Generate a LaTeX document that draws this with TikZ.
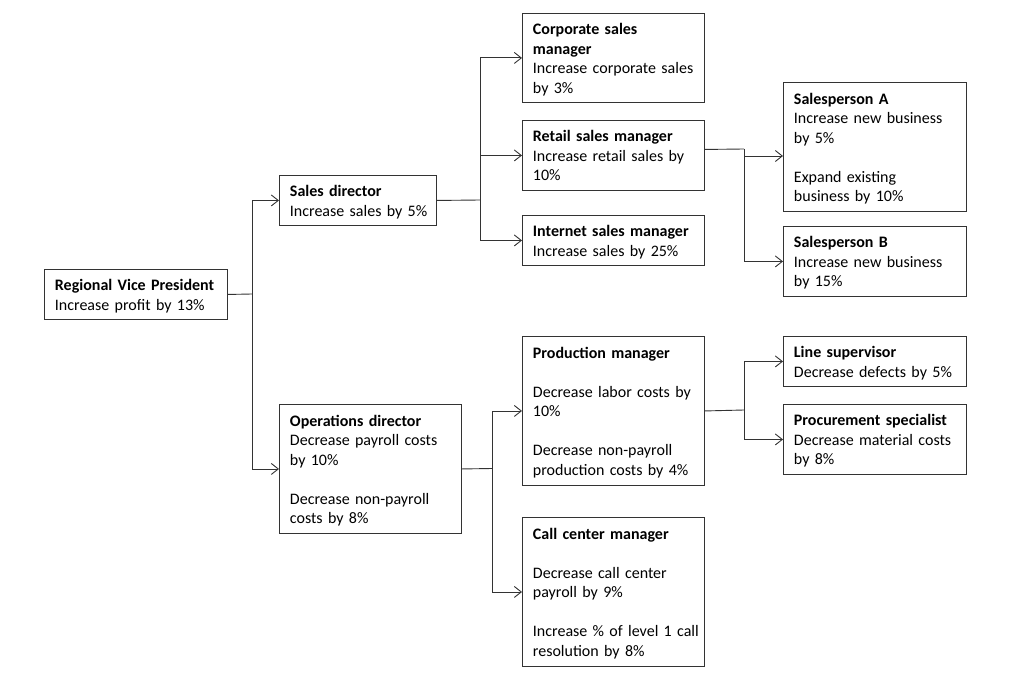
\documentclass[tikz,border=0pt]{standalone}
\usepackage{fontspec}
\setmainfont{Carlito}
\usetikzlibrary{arrows.meta}
\newcommand\tl[1]{\raisebox{-2pt}[\height][\depth]{\begin{tabular}{@{}l@{}}#1\end{tabular}}}
\tikzset{
  box/.style={draw=black!80, line width=0.9pt, rectangle, anchor=north west, align=left,
    inner xsep=10.5pt, inner ysep=2pt, font=\fontsize{16}{19.5}\selectfont},
  link/.style={draw=black!80, line width=0.9pt},
  arr/.style={link, -{Straight Barb[length=7pt,width=11pt,line width=0.9pt]}}
}
\begin{document}
\begin{tikzpicture}[x=1pt,y=-1pt]
\useasboundingbox (0,0) rectangle (1024,674);
% boxes
\node[box, minimum width=183, minimum height=50, text width=162] (rvp) at (44,269)
  {\tl{\textbf{Regional Vice President}\\Increase profit by 13\%}};
\node[box, minimum width=157, minimum height=50, text width=136] (sd) at (279,175)
  {\tl{\textbf{Sales director}\\Increase sales by 5\%}};
\node[box, minimum width=182, minimum height=129, text width=161] (ops) at (279,404)
  {\tl{\textbf{Operations director}\\Decrease payroll costs\\by 10\%\\[19.5pt]Decrease non-payroll\\costs by 8\%}};
\node[box, minimum width=182, minimum height=89, text width=161] (corp) at (522,13)
  {\tl{\textbf{Corporate sales}\\\textbf{manager}\\Increase corporate sales\\by 3\%}};
\node[box, minimum width=182, minimum height=70, text width=161] (retail) at (522,120)
  {\tl{\textbf{Retail sales manager}\\Increase retail sales by\\10\%}};
\node[box, minimum width=182, minimum height=50, text width=161] (inet) at (522,215)
  {\tl{\textbf{Internet sales manager}\\Increase sales by 25\%}};
\node[box, minimum width=183, minimum height=129, text width=162] (sa) at (783,82)
  {\tl{\textbf{Salesperson A}\\Increase new business\\by 5\%\\[19.5pt]Expand existing\\business by 10\%}};
\node[box, minimum width=183, minimum height=70, text width=162] (sb) at (783,226)
  {\tl{\textbf{Salesperson B}\\Increase new business\\by 15\%}};
\node[box, minimum width=182, minimum height=149, text width=161] (prod) at (522,336)
  {\tl{\textbf{Production manager}\\[19.5pt]Decrease labor costs by\\10\%\\[19.5pt]Decrease non-payroll\\production costs by 4\%}};
\node[box, minimum width=182, minimum height=149, text width=161] (call) at (522,517)
  {\tl{\textbf{Call center manager}\\[19.5pt]Decrease call center\\payroll by 9\%\\[19.5pt]Increase \% of level 1 call\\resolution by 8\%}};
\node[box, minimum width=183, minimum height=50, text width=162] (ls) at (783,336)
  {\tl{\textbf{Line supervisor}\\Decrease defects by 5\%}};
\node[box, minimum width=183, minimum height=70, text width=162] (proc) at (783,404)
  {\tl{\textbf{Procurement specialist}\\Decrease material costs\\by 8\%}};
% junctions
\coordinate (j1) at (252,294);
\coordinate (j2) at (480,200);
\coordinate (j3) at (744,149);
\coordinate (j3a) at (744,156);
\coordinate (j4) at (744,410);
\coordinate (j5) at (492,468.5);
% connectors
\draw[link] (rvp.east) -- (j1);
\draw[arr] (j1) |- (sd.west);
\draw[arr] (j1) |- (ops.west);
\draw[link] (sd.east) -- (j2);
\draw[arr] (j2) |- (corp.west);
\draw[arr] (j2) |- (retail.west);
\draw[arr] (j2) |- (inet.west);
\draw[link] ([yshift=6pt]retail.east) -- (j3);
\draw[arr] (j3) |- (sb.west);
\draw[arr] (j3a) -- (j3a -| sa.west);
\draw[link] (prod.east) -- (j4);
\draw[arr] (j4) |- (ls.west);
\draw[arr] (j4) |- (proc.west);
\draw[link] (ops.east) -- (j5);
\draw[arr] (j5) |- (prod.west);
\draw[arr] (j5) |- (call.west);
\end{tikzpicture}
\end{document}
